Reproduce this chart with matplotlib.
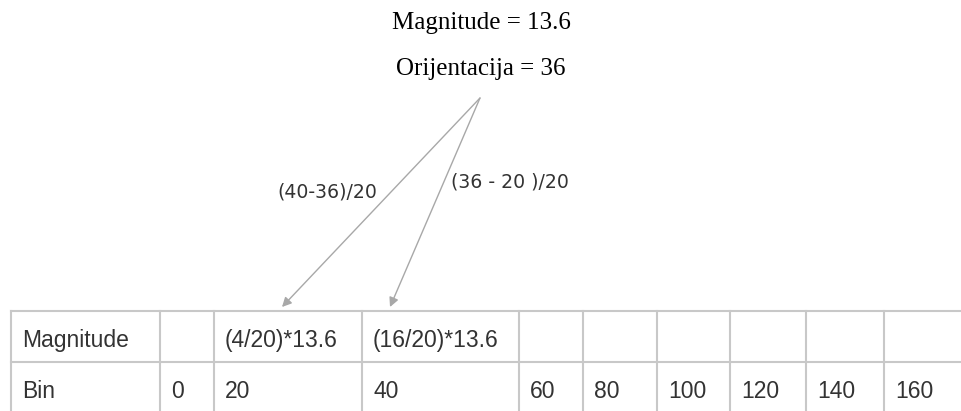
import matplotlib.pyplot as plt

# Diagram content
header_lines = ["Magnitude = 13.6", "Orijentacija = 36"]
row_labels = ["Magnitude", "Bin"]
magnitude_cells = ["", "(4/20)*13.6", "(16/20)*13.6", "", "", "", "", "", ""]
bin_cells = ["0", "20", "40", "60", "80", "100", "120", "140", "160"]
arrow_labels = ["(40-36)/20", "(36 - 20 )/20"]

# Layout (pixel coordinates, y downward)
W, H = 961, 411
col_edges = [11, 160, 214, 362, 519, 583, 657, 730, 806, 884]
row_edges = [311, 362, 411]
text_baselines = [347, 398]
header_baselines = [29, 75]
apex = (480, 98)
arrow_tips = [(282, 307), (390, 307)]
label_pos = [(277, 197), (451, 187)]

LINE = "#c8c8c8"
ARROW = "#a8a8a8"
TXT = "#333333"

fig = plt.figure(figsize=(W / 100, H / 100), dpi=100)
ax = fig.add_axes([0, 0, 1, 1])
ax.set_xlim(0, W)
ax.set_ylim(H, 0)
ax.axis("off")

# header text
for s, yb in zip(header_lines, header_baselines):
    ax.text(481, yb, s, ha="center", va="baseline", fontsize=18,
            family="Liberation Serif", color="black")

# arrows
for tip in arrow_tips:
    ax.annotate("", xy=tip, xytext=apex,
                arrowprops=dict(arrowstyle="-|>", color=ARROW, lw=1,
                                mutation_scale=14, shrinkA=0, shrinkB=0))

for s, (x, y) in zip(arrow_labels, label_pos):
    ax.text(x, y, s, ha="left", va="baseline", fontsize=13.6,
            family="DejaVu Sans", color=TXT)

# table grid
for y in row_edges[:2]:
    ax.plot([col_edges[0], W], [y, y], color=LINE, lw=1.5)
for x in col_edges:
    ax.plot([x, x], [row_edges[0], row_edges[-1]], color=LINE, lw=1.5)

# table text
rows = [[row_labels[0]] + magnitude_cells, [row_labels[1]] + bin_cells]
for cells, yb in zip(rows, text_baselines):
    for x0, s in zip(col_edges, cells):
        if s:
            ax.text(x0 + 11, yb, s, ha="left", va="baseline", fontsize=16.5,
                    family="Liberation Sans", color=TXT)

fig.savefig("out.png", dpi=100)
